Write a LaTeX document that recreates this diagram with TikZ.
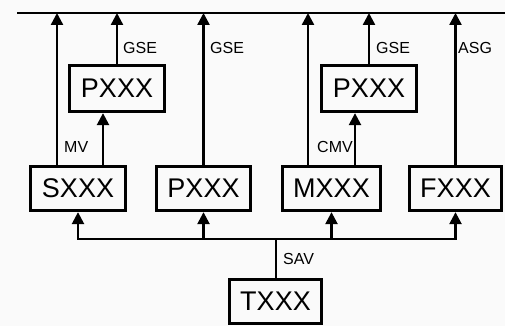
\documentclass[tikz,border=0pt]{standalone}
\usepackage{fontspec}
\setmainfont{Liberation Sans}
\usetikzlibrary{arrows.meta}
\definecolor{bgc}{RGB}{250,250,250}
\begin{document}
\begin{tikzpicture}[x=1pt,y=-1pt,
  box/.style={draw, line width=3.3pt, rectangle, minimum height=44pt, inner sep=0pt, font=\fontsize{27}{29}\selectfont},
  ln/.style={line width=2.4pt},
  arr/.style={ln, -{Triangle[length=12pt,width=12pt]}},
  lbl/.style={font=\fontsize{16}{17}\selectfont, inner sep=0pt, anchor=west}]
\fill[bgc] (0,0) rectangle (505,326);
\useasboundingbox (0,0) rectangle (505,326);

% boxes
\node[box, minimum width=95pt] (S)  at (78,188.5) {SXXX};
\node[box, minimum width=94pt] (Pm) at (203.5,188.5) {PXXX};
\node[box, minimum width=98pt] (M)  at (331.5,188.5) {MXXX};
\node[box, minimum width=92pt] (F)  at (455.5,188.5) {FXXX};
\node[box, minimum width=92pt] (T)  at (275.5,301.5) {TXXX};
\node[box, minimum width=95pt, minimum height=46pt] (PL) at (117,88.5) {PXXX};
\node[box, minimum width=95pt, minimum height=46pt] (PR) at (369,88.5) {PXXX};

% top bus
\coordinate (busL) at (17,13);
\coordinate (busR) at (505,13);
\draw[ln] (busL) -- (busR);

% bus taps
\coordinate (t1) at (57,13);
\coordinate (t5) at (308,13);
\coordinate (u1) at (103,0);
\coordinate (u2) at (355,0);

\draw[arr] (S.north -| t1) -- (t1);
\draw[arr] (S.north -| u1) -- (PL.south -| u1);
\draw[arr] (PL.north) -- (PL.north |- busL);
\draw[arr] (Pm.north) -- (Pm.north |- busL);
\draw[arr] (M.north -| t5) -- (t5);
\draw[arr] (M.north -| u2) -- (PR.south -| u2);
\draw[arr] (PR.north) -- (PR.north |- busL);
\draw[arr] (F.north) -- (F.north |- busL);

% bottom distribution
\coordinate (j) at (276,239);
\draw[ln] (T.north -| j) -- (j);
\draw[arr] (j) -| (S.south);
\draw[arr] (j) -| (F.south);
\draw[arr] (j -| Pm.south) -- (Pm.south);
\draw[arr] (j -| M.south) -- (M.south);

% labels
\node[lbl] (g1) at (123,47.5) {GSE};
\node[lbl] (g2) at (210,47.5) {GSE};
\node[lbl] (g3) at (376,47.5) {GSE};
\node[lbl] (a1) at (458,47.5) {ASG};
\node[lbl] (mv) at (64,147) {MV};
\node[lbl] (cmv) at (317,147) {CMV};
\node[lbl] (sav) at (283,259) {SAV};
\end{tikzpicture}
\end{document}
